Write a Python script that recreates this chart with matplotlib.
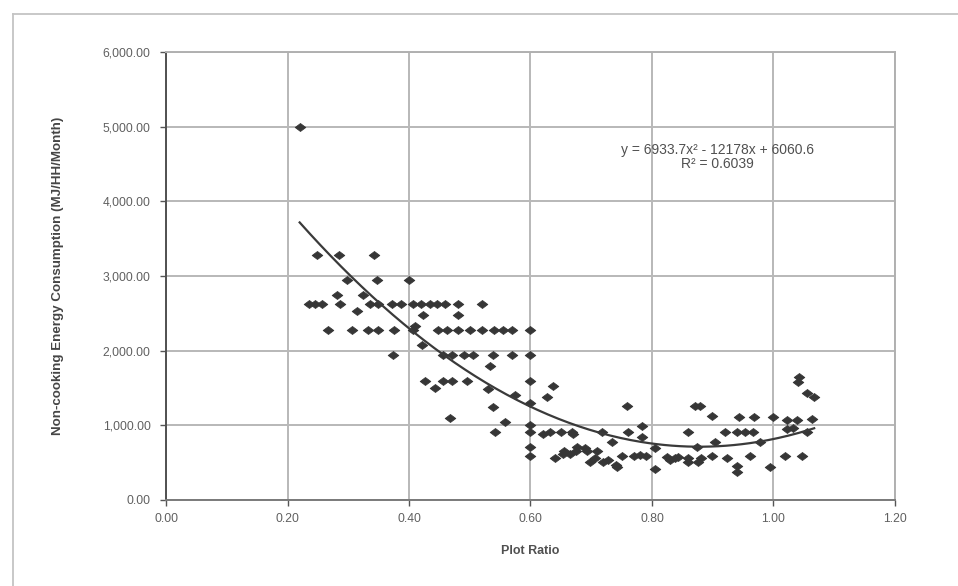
import numpy as np
import matplotlib
matplotlib.use("Agg")
import matplotlib.pyplot as plt
from matplotlib.ticker import FuncFormatter
from matplotlib.lines import Line2D
from matplotlib.path import Path

plt.rcParams['font.family'] = ['Liberation Sans', 'DejaVu Sans']

# plot ratio / non-cooking energy
plot_ratio = [
    0.22,
    0.248, 0.285, 0.342,
    0.298, 0.348, 0.400,
    0.281, 0.325,
    0.235, 0.246, 0.257, 0.286, 0.335, 0.349, 0.372, 0.387, 0.407, 0.42, 0.435, 0.446, 0.459, 0.48, 0.52,
    0.314, 0.423, 0.48, 0.41,
    0.266, 0.306, 0.333, 0.349, 0.375, 0.407, 0.448, 0.462, 0.48, 0.50, 0.52, 0.54, 0.555, 0.57, 0.599,
    0.422,
    0.374, 0.456, 0.47, 0.49, 0.505, 0.538, 0.57, 0.599,
    0.533,
    0.426, 0.456, 0.47, 0.495, 0.599,
    0.443, 0.53, 0.637, 0.574, 0.627, 0.599, 0.538, 0.468, 0.558, 0.599,
    0.541, 0.599, 0.632, 0.65, 0.668, 0.718, 0.76, 0.86, 0.92, 0.94, 0.953, 0.966, 1.055,
    0.67,
    0.599, 0.677, 0.874,
    0.599, 0.75, 0.77, 0.79, 0.899, 0.961, 1.019, 1.047,
    0.655, 0.675, 0.693, 0.71,
    0.654, 0.665,
    0.728, 0.83,
    0.698, 0.86, 0.875,
    0.74, 0.742, 0.994, 0.805, 0.94, 0.94,
    0.759, 0.871, 0.879,
    0.899, 0.943, 0.968, 1.0,
    1.022, 1.039, 1.063,
    0.783, 0.783, 0.805,
    0.734, 0.904, 0.977,
    1.022, 1.032,
    1.042, 1.04, 1.055, 1.067,
    0.825, 0.838, 0.843, 0.86, 0.88, 0.923,
    0.69, 0.72, 0.706, 0.62, 0.64, 0.78,
]
energy = [
    5000,
    3280, 3280, 3280,
    2950, 2950, 2950,
    2750, 2750,
    2620, 2620, 2620, 2620, 2620, 2620, 2620, 2620, 2620, 2620, 2620, 2620, 2620, 2620, 2620,
    2530, 2480, 2480, 2330,
    2280, 2280, 2280, 2280, 2280, 2280, 2280, 2280, 2280, 2280, 2280, 2280, 2280, 2280, 2280,
    2080,
    1940, 1940, 1940, 1940, 1940, 1940, 1940, 1940,
    1800,
    1600, 1600, 1600, 1600, 1600,
    1500, 1490, 1530, 1410, 1380, 1300, 1250, 1100, 1040, 1000,
    910, 910, 910, 910, 910, 910, 910, 910, 910, 910, 910, 910, 910,
    880,
    710, 710, 710,
    590, 590, 590, 590, 590, 590, 590, 590,
    650, 650, 650, 650,
    620, 620,
    540, 540,
    510, 510, 510,
    470, 440, 440, 415, 460, 380,
    1260, 1260, 1260,
    1120, 1110, 1110, 1110,
    1070, 1070, 1080,
    990, 840, 700,
    780, 780, 770,
    950, 960,
    1650, 1580, 1430, 1380,
    580, 560, 580, 560, 560, 560,
    700, 510, 560, 880, 560, 600,
]

# Excel trendline shown on the chart
trend_coef = [6933.7, -12178, 6060.6]
trend_text = "y = 6933.7x² - 12178x + 6060.6\nR² = 0.6039"

x_ticks = [0.0, 0.2, 0.4, 0.6, 0.8, 1.0, 1.2]
y_ticks = [0, 1000, 2000, 3000, 4000, 5000, 6000]

fig = plt.figure(figsize=(9.58, 5.86), dpi=100)
# partial frame of the scanned chart (top and left edges)
fig.lines.append(Line2D([13 / 958, 1.0], [1 - 14 / 586] * 2, transform=fig.transFigure,
                        color='#c4c4c4', linewidth=1.3))
fig.lines.append(Line2D([13 / 958] * 2, [0.0, 1 - 14 / 586], transform=fig.transFigure,
                        color='#c4c4c4', linewidth=1.3))
ax = fig.add_axes([0.1733, 0.1468, 0.7609, 0.7645])

# squashed diamond like Excel's marker
diamond = Path([(-1, 0), (0, 0.75), (1, 0), (0, -0.75), (-1, 0)],
               [Path.MOVETO, Path.LINETO, Path.LINETO, Path.LINETO, Path.CLOSEPOLY])
ax.scatter(plot_ratio, energy, marker=diamond, s=58, color='#363636', edgecolors='#363636',
           linewidths=0.6, zorder=3)

xs = np.linspace(min(plot_ratio), max(plot_ratio), 200)
ax.plot(xs, np.polyval(trend_coef, xs), color='#3a3a3a', linewidth=1.6, zorder=4)

ax.text(0.757, 0.766, trend_text, transform=ax.transAxes, ha='center', va='center',
        fontsize=10, color='#505050', linespacing=1.0)

ax.set_xlim(0, 1.2)
ax.set_ylim(0, 6000)
ax.set_xticks(x_ticks)
ax.set_yticks(y_ticks)
ax.xaxis.set_major_formatter(FuncFormatter(lambda v, p: f"{v:.2f}"))
ax.yaxis.set_major_formatter(FuncFormatter(lambda v, p: f"{v:,.2f}"))
ax.tick_params(labelsize=8.7, colors='#555555', length=4, width=1, direction='out')
ax.tick_params(axis='both', labelcolor='#606060')
ax.tick_params(axis='y', pad=7)
ax.tick_params(axis='x', pad=5.5)

ax.grid(True, color='#b8b8b8', linewidth=1.4)
ax.set_axisbelow(True)
for s in ['top', 'right']:
    ax.spines[s].set_color('#b0b0b0')
    ax.spines[s].set_linewidth(1.4)
ax.spines['left'].set_color('#505050')
ax.spines['bottom'].set_color('#7a7a7a')
ax.spines['left'].set_linewidth(1.4)
ax.spines['bottom'].set_linewidth(1.4)

ax.set_xlabel("Plot Ratio", fontsize=9, fontweight='bold', color='#505050', labelpad=14)
ax.set_ylabel("Non-cooking Energy Consumption (MJ/HH/Month)", fontsize=9.6,
              fontweight='bold', color='#454545', labelpad=28)

fig.savefig("out.png", dpi=100)
